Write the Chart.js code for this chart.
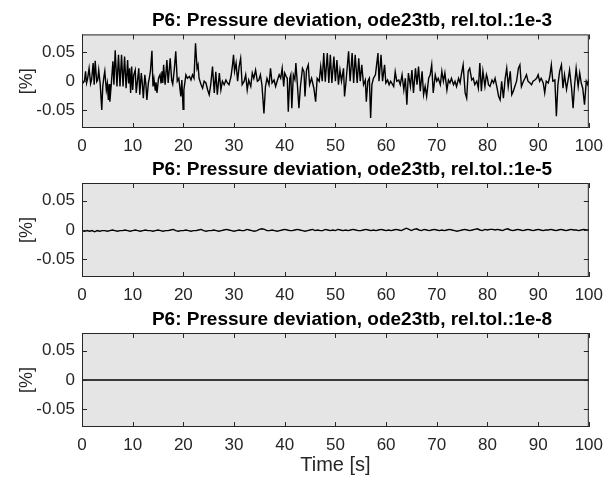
<!DOCTYPE html>
<html>
<head>
<meta charset="utf-8">
<script src="https://cdn.jsdelivr.net/npm/chart.js@4.4.0/dist/chart.umd.min.js"></script>
<style>
  body { margin: 0; background: #fff; }
  #wrap { position: relative; width: 611px; height: 477px; }
  canvas { position: absolute; left: 0; }
</style>
</head>
<body>
<div id="wrap">
  <canvas id="tol3" width="611" height="155" style="top:0"></canvas>
  <canvas id="tol5" width="611" height="150" style="top:155px"></canvas>
  <canvas id="tol8" width="611" height="172" style="top:305px"></canvas>
</div>
<script>
// tick labels
const xTicks = [0, 10, 20, 30, 40, 50, 60, 70, 80, 90, 100];
const yTicks = [-0.05, 0, 0.05];

const titles = [
  'P6: Pressure deviation, ode23tb, rel.tol.:1e-3',
  'P6: Pressure deviation, ode23tb, rel.tol.:1e-5',
  'P6: Pressure deviation, ode23tb, rel.tol.:1e-8'
];

// rel.tol 1e-3: time [s] and deviation [%]
const time3 = [
  0, 0.3, 0.5, 0.7, 0.9, 1.1, 1.4, 1.7, 1.9, 2.2,
  2.4, 2.6, 2.9, 3.1, 3.3, 3.6, 3.9, 4.1, 4.3, 4.5,
  4.8, 5.0, 5.2, 5.35, 5.5, 5.8, 6.1, 6.3, 6.55, 6.9,
  7.2, 7.5, 7.8, 8.1, 8.4, 8.7, 9.0, 9.2, 9.4, 9.6,
  9.8, 10.0, 10.2, 10.5, 10.7, 11.0, 11.2, 11.4, 11.7, 11.9,
  12.1, 12.4, 12.6, 12.8, 13.1, 13.3, 13.5, 13.8, 14.0, 14.2,
  14.45, 14.6, 14.8, 15.1, 15.4, 15.6, 15.8, 15.95, 16.1, 16.4,
  16.75, 17.0, 17.4, 17.7, 17.9, 18.2, 18.5, 18.8, 19.1, 19.5,
  19.7, 19.95, 20.1, 20.5, 20.8, 21.2, 21.5, 21.8, 22.1, 22.4,
  22.7, 22.9, 23.1, 23.5, 23.8, 24.1, 24.45, 24.8, 25.1, 25.4,
  25.75, 26.1, 26.4, 26.7, 27.1, 27.4, 27.7, 28.05, 28.4, 28.7,
  29.0, 29.4, 29.7, 29.9, 30.1, 30.4, 30.7, 31.0, 31.3, 31.6,
  32.0, 32.3, 32.6, 32.9, 33.3, 33.6, 33.9, 34.25, 34.6, 34.9,
  35.2, 35.5, 35.9, 36.2, 36.5, 36.9, 37.2, 37.5, 37.9, 38.2,
  38.5, 38.9, 39.2, 39.5, 39.8, 40.0, 40.3, 40.5, 40.7, 41.0,
  41.2, 41.4, 41.7, 42.0, 42.2, 42.5, 42.8, 43.1, 43.5, 43.8,
  44.0, 44.3, 44.65, 44.9, 45.3, 45.75, 46.1, 46.4, 46.8, 47.1,
  47.4, 47.7, 48.0, 48.4, 48.7, 49.0, 49.3, 49.7, 50.0, 50.3,
  50.6, 50.9, 51.2, 51.6, 51.8, 52.1, 52.6, 52.9, 53.3, 53.6,
  53.9, 54.3, 54.6, 54.9, 55.2, 55.55, 55.9, 56.1, 56.4, 56.7,
  56.95, 57.2, 57.5, 57.9, 58.4, 58.6, 59.0, 59.3, 59.7, 59.95,
  60.3, 60.6, 60.9, 61.5, 61.8, 62.1, 62.5, 62.8, 63.15, 63.5,
  63.8, 64.1, 64.4, 64.8, 65.1, 65.4, 65.8, 66.1, 66.4, 66.75,
  67.1, 67.4, 67.7, 68.0, 68.4, 68.7, 69.0, 69.3, 69.7, 70.0,
  70.3, 70.7, 71.0, 71.3, 71.6, 72.0, 72.3, 72.6, 72.9, 73.3,
  73.6, 73.9, 74.3, 74.6, 74.9, 75.2, 75.6, 75.9, 76.2, 76.5,
  76.9, 77.2, 77.5, 77.9, 78.2, 78.5, 78.8, 79.1, 79.5, 79.8,
  80.0, 80.2, 80.5, 80.9, 81.2, 81.5, 81.9, 82.2, 82.5, 82.8,
  83.15, 83.5, 83.8, 84.1, 84.5, 84.8, 85.1, 85.4, 85.75, 86.1,
  86.4, 86.7, 87.1, 87.4, 87.7, 88.0, 88.4, 88.7, 89.0, 89.35,
  89.7, 90.0, 90.3, 90.6, 91.0, 91.3, 91.6, 92.0, 92.3, 92.6,
  92.9, 93.3, 93.6, 93.9, 94.25, 94.6, 94.9, 95.2, 95.6, 95.9,
  96.2, 96.6, 96.9, 97.2, 97.5, 97.9, 98.2, 98.5, 98.8, 99.15,
  99.5, 99.8, 100
];
const dev3 = [
  .002, -.002, .001, .017, -.003, .004, .022, -.004, .003, .031,
  -.006, .035, -.001, .002, .019, -.006, -.049, -.009, .006, .017,
  -.015, -.004, -.032, -.005, -.035, -.003, .034, -.006, .053, -.009,
  .045, -.009, .045, -.009, .042, -.012, .036, -.004, .022, -.02,
  .025, -.015, .01, .019, -.02, .005, .022, -.023, .014, -.004,
  -.029, .011, -.005, -.032, -.003, .006, .017, .052, -.009, .004,
  -.015, -.002, -.02, .005, .011, -.004, .017, -.003, .028, -.006,
  .036, -.003, .039, .001, -.005, .019, .051, 0, .005, -.026,
  .002, -.048, -.015, .011, .005, .008, .002, .011, .005, .065,
  .022, .028, .005, -.006, -.012, 0, -.003, -.015, -.023, -.006,
  .025, -.02, .016, -.023, .014, -.015, 0, -.006, .002, -.003,
  -.006, .008, .028, .045, .017, .031, 0, .025, .039, -.006,
  0, .011, -.015, .002, -.009, .014, .005, .019, 0, .002,
  .011, -.006, -.055, -.009, .005, -.006, .022, -.003, .002, -.009,
  0, .011, .005, .022, -.009, .014, .008, .005, -.052, .005,
  .011, -.046, .011, .003, .031, -.006, -.046, -.009, .022, .016,
  -.026, .019, .028, -.006, .005, -.012, -.035, .005, 0, .025,
  0, .048, -.001, .048, -.003, .045, -.003, .042, 0, .036,
  -.006, .019, 0, .022, -.026, 0, .051, 0, .048, -.003,
  .045, -.003, .039, 0, .028, -.006, .002, -.035, 0, .005,
  -.063, -.006, .005, .011, .048, 0, .045, 0, .028, -.003,
  .002, -.006, 0, -.009, .016, 0, .002, -.006, .011, -.015,
  .005, -.04, .014, -.009, .019, -.02, .022, -.006, .025, -.017,
  .017, -.023, -.009, -.026, .005, .011, .028, -.02, .011, 0,
  .005, -.006, .017, 0, .014, -.015, .002, -.003, .005, -.006,
  0, -.009, .005, -.003, .014, .028, -.02, -.029, .017, .022,
  .002, .005, -.006, 0, -.012, .031, -.017, .017, -.009, .011,
  .005, -.006, -.009, .002, -.003, .005, -.012, -.026, -.032, 0,
  -.029, .005, .022, -.009, .017, -.023, -.017, -.009, 0, .022,
  .028, -.009, 0, .005, .011, 0, -.003, -.006, 0, .002,
  .005, .011, 0, .005, -.003, -.02, 0, -.003, .008, .028,
  0, .002, -.06, -.006, .017, .028, -.012, .011, -.014, .002,
  .019, -.012, -.046, -.006, .022, -.009, .014, -.003, -.012, -.04,
  0, -.006, .004
];

// rel.tol 1e-5: sampled every 0.5 s
const step5 = 0.5;
const dev5 = [
  -.001, -.002, -.001, -.002, -.001, -.003, -.001, -.002, -.001, -.001,
  -.002, -.001, 0, -.001, -.002, -.001, -.001, 0, -.001, -.002,
  -.001, 0, -.001, -.002, -.001, 0, -.001, -.001, -.002, -.001,
  0, -.001, -.002, -.001, -.001, 0, .001, -.001, -.002, -.001,
  -.001, 0, -.001, -.002, -.001, -.001, 0, .001, -.001, -.002,
  -.001, -.001, 0, -.001, -.002, -.001, 0, .001, 0, -.001,
  -.002, -.001, 0, -.001, -.001, .001, 0, -.001, -.002, -.001,
  .001, .002, .001, -.001, -.001, 0, -.001, -.002, -.001, 0,
  .001, 0, -.001, -.001, 0, .001, 0, -.001, -.002, -.001,
  0, .001, -.001, 0, -.001, -.001, .001, 0, -.001, 0,
  -.001, .001, 0, -.001, 0, -.001, 0, .001, 0, -.001,
  -.001, 0, .001, 0, -.001, 0, -.001, 0, .001, 0,
  -.001, 0, -.001, 0, .001, 0, -.001, .001, .003, .001,
  -.001, .001, .002, 0, -.001, .001, 0, -.001, 0, .001,
  0, -.001, 0, -.001, 0, .001, 0, -.001, -.002, -.001,
  0, .001, 0, -.001, 0, .001, .002, 0, -.001, .001,
  0, .001, .001, 0, .001, 0, -.001, .001, .002, 0,
  -.001, 0, .001, 0, -.001, 0, .001, 0, -.001, 0,
  .001, 0, -.001, 0, 0, .001, 0, -.001, 0, .001,
  0, -.001, 0, .001, 0, 0, -.001, 0, .001, 0, 0
];

// rel.tol 1e-8: sampled every 10 s
const step8 = 10;
const dev8 = [0, 0, 0, 0, 0, 0, 0, 0, 0, 0, 0];

const FONT = '"Liberation Sans", Arial, Helvetica, sans-serif';
const INK = '#262626';
const PANEL = '#e5e5e5';
const TITLE_CENTER = 352;   // title sits a bit right of the axes centre in the original

function pairs(times, vals) {
    return times.map((t, i) => ({ x: t, y: vals[i] }));
}

function sampled(vals, step) {
    return vals.map((v, i) => ({ x: i * step, y: v }));
}

// grey axes background, box and inward ticks on all four sides
const panelBox = {
    id: 'panelBox',
    afterLayout(chart) {
        const tb = chart.titleBlock;
        if (tb) {
            const shift = TITLE_CENTER - (tb.left + tb.right) / 2;
            tb.left += shift;
            tb.right += shift;
        }
    },
    beforeDraw(chart) {
        const a = chart.chartArea;
        const ctx = chart.ctx;
        ctx.save();
        ctx.fillStyle = PANEL;
        ctx.fillRect(a.left, a.top, a.right - a.left, a.bottom - a.top);
        ctx.restore();
    },
    afterDatasetsDraw(chart) {
        const a = chart.chartArea;
        const ctx = chart.ctx;
        const xs = chart.scales.x;
        const ys = chart.scales.y;
        ctx.save();
        ctx.strokeStyle = INK;
        ctx.lineWidth = 1;
        ctx.strokeRect(a.left + 0.5, a.top + 0.5, a.right - a.left - 1, a.bottom - a.top - 1);
        ctx.beginPath();
        xTicks.forEach(v => {
            const px = Math.round(xs.getPixelForValue(v)) + 0.5;
            ctx.moveTo(px, a.bottom); ctx.lineTo(px, a.bottom - 5);
            ctx.moveTo(px, a.top); ctx.lineTo(px, a.top + 5);
        });
        yTicks.forEach(v => {
            const py = Math.round(ys.getPixelForValue(v)) + 0.5;
            ctx.moveTo(a.left, py); ctx.lineTo(a.left + 5, py);
            ctx.moveTo(a.right, py); ctx.lineTo(a.right - 5, py);
        });
        ctx.stroke();
        ctx.restore();
    }
};

function makeChart(id, points, title, titleTop, xHeight, xTitle) {
    const canvas = document.getElementById(id);
    if (!canvas) {
        console.error('canvas not found: ' + id);
        return;
    }
    new Chart(canvas, {
        type: 'line',
        data: {
            datasets: [{
                data: points,
                borderColor: '#000',
                borderWidth: 1.4,
                pointRadius: 0,
                tension: 0
            }]
        },
        options: {
            responsive: false,
            animation: false,
            devicePixelRatio: 1,
            layout: { padding: { left: 0, right: 19, top: 0, bottom: 0 } },
            plugins: {
                legend: { display: false },
                tooltip: { enabled: false },
                title: {
                    display: true,
                    text: title,
                    color: '#000',
                    font: { family: FONT, size: 19, weight: 'bold' },
                    padding: { top: titleTop, bottom: 2 }
                }
            },
            scales: {
                x: {
                    type: 'linear',
                    min: 0,
                    max: 100,
                    grid: { display: false, drawTicks: false },
                    border: { display: false },
                    afterBuildTicks: s => { s.ticks = xTicks.map(v => ({ value: v })); },
                    afterFit: s => { s.height = xHeight; },
                    ticks: { color: INK, font: { family: FONT, size: 17 }, padding: 8, maxRotation: 0, autoSkip: false },
                    title: {
                        display: !!xTitle,
                        text: xTitle || '',
                        color: INK,
                        font: { family: FONT, size: 20 },
                        padding: { top: 0, bottom: 0 }
                    }
                },
                y: {
                    type: 'linear',
                    min: -0.08,
                    max: 0.08,
                    grid: { display: false, drawTicks: false },
                    border: { display: false },
                    afterBuildTicks: s => { s.ticks = yTicks.map(v => ({ value: v })); },
                    afterFit: s => { s.width = 82; },
                    ticks: { color: INK, font: { family: FONT, size: 17 }, padding: 7, callback: v => String(v) },
                    title: {
                        display: true,
                        text: '[%]',
                        color: INK,
                        font: { family: FONT, size: 18 },
                        padding: { top: 16, bottom: 0 }
                    }
                }
            }
        },
        plugins: [panelBox]
    });
}

document.addEventListener('DOMContentLoaded', () => {
    makeChart('tol3', pairs(time3, dev3), titles[0], 9.6, 27);
    makeChart('tol5', sampled(dev5, step5), titles[1], 3.2, 28);
    makeChart('tol8', sampled(dev8, step8), titles[2], 3.2, 50, 'Time [s]');
});
</script>
</body>
</html>
